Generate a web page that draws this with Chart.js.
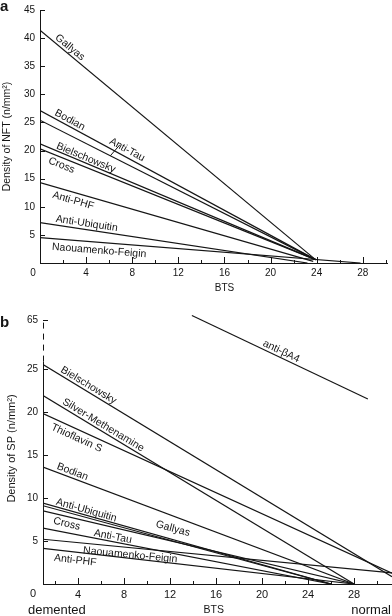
<!DOCTYPE html>
<html>
<head>
<meta charset="utf-8">
<script src="https://cdn.jsdelivr.net/npm/chart.js@4.4.0/dist/chart.umd.min.js"></script>
<style>
  html, body { margin: 0; padding: 0; background: #fff; }
  #wrap { position: relative; width: 392px; height: 616px; }
  canvas { position: absolute; left: 0; }
  #chartA { top: 0; }
  #chartB { top: 300px; }
</style>
</head>
<body>
<div id="wrap">
  <canvas id="chartA" width="392" height="300"></canvas>
  <canvas id="chartB" width="392" height="316"></canvas>
</div>
<script>
// panel a: density of NFT, each regression line from (start BTS, start value) to (end BTS, end value)
const nftNames = ["Gallyas", "Bodian", "Anti-Tau", "Bielschowsky", "Cross", "Anti-PHF", "Anti-Ubiquitin", "Naouamenko-Feigin"];
const nftStartBts = [0, 0, 0, 0, 0, 0, 0, 0];
const nftStart = [41.4, 27.1, 25.4, 21.2, 20.3, 14.3, 7.2, 4.5];
const nftEndBts = [23.9, 23.9, 23.9, 23.9, 23.9, 23.7, 23.2, 27.8];
const nftEnd = [0.6, 0.6, 0.6, 0.6, 0.6, 0.3, 0, 0];
const nftXTicks = [4, 8, 12, 16, 20, 24, 28];
const nftXMinor = [2, 6, 10, 14, 18, 22, 26, 30];
const nftYTicks = [5, 10, 15, 20, 25, 30, 35, 40, 45];

// panel b: density of SP (anti-βA4 sits in the broken top part of the axis)
const spNames = ["Bielschowsky", "Silver-Methenamine", "Thioflavin S", "Bodian", "Anti-Ubiquitin", "Gallyas", "Cross", "Anti-Tau", "Naouamenko-Feigin", "Anti-PHF", "anti-βA4"];
const spStartBts = [0.95, 0.95, 0.95, 0.95, 0.95, 0.95, 0.95, 0.95, 0.95, 0.95, 13.9];
const spStart = [25.5, 21.9, 19.8, 13.6, 9.4, 9.1, 8.5, 6.5, 5.2, 4.15, 31.2];
const spEndBts = [31.3, 28, 31.3, 28, 26, 26, 28, 26, 31.3, 28, 29.2];
const spEnd = [0.85, 0, 1.25, 0, 0, 0, 0, 0, 1.3, 0, 21.5];
const spXTicks = [4, 8, 12, 16, 20, 24, 28];
const spXMinor = [2, 6, 10, 14, 18, 22, 26, 30];
const spYTicks = [5, 10, 15, 20, 25];
const spBreakFrom = 25.85;
const spBreakTick = 30.7;
const spBreakLabel = "65";

const ink = "#151515";
const family = "'Liberation Sans', Arial, Helvetica, sans-serif";

function lineSets(names, x0, y0, x1, y1) {
  return names.map((n, i) => ({
    label: n,
    data: [{ x: x0[i], y: y0[i] }, { x: x1[i], y: y1[i] }],
    borderColor: ink,
    borderWidth: 1.2,
    pointRadius: 0,
    fill: false,
    tension: 0
  }));
}

function pointOn(chart, ds, at, gap) {
  const xs = chart.scales.x, ys = chart.scales.y;
  const d = chart.data.datasets[ds].data;
  const ax = xs.getPixelForValue(d[0].x), ay = ys.getPixelForValue(d[0].y);
  const bx = xs.getPixelForValue(d[1].x), by = ys.getPixelForValue(d[1].y);
  const t = (at - d[0].x) / (d[1].x - d[0].x);
  const ang = Math.atan2(by - ay, bx - ax);
  return {
    x: ax + t * (bx - ax) + gap * Math.sin(ang),
    y: ay + t * (by - ay) - gap * Math.cos(ang),
    ang: ang
  };
}

const decor = {
  id: "decor",
  afterDatasetsDraw(chart, args, o) {
    const ctx = chart.ctx, xs = chart.scales.x, ys = chart.scales.y, ca = chart.chartArea;
    ctx.save();
    ctx.strokeStyle = ink;
    ctx.fillStyle = ink;
    ctx.lineWidth = 1;
    const seg = (ax, ay, bx, by) => {
      ctx.beginPath(); ctx.moveTo(ax, ay); ctx.lineTo(bx, by); ctx.stroke();
    };

    // tick marks point inwards
    o.yTicks.forEach(v => {
      const py = Math.round(ys.getPixelForValue(v)) + 0.5;
      seg(ca.left, py, ca.left + 5, py);
    });
    o.xMajor.forEach(v => {
      const px = Math.round(xs.getPixelForValue(v)) + 0.5;
      seg(px, ca.bottom, px, ca.bottom - 6);
    });
    o.xMinor.forEach(v => {
      const px = Math.round(xs.getPixelForValue(v)) + 0.5;
      seg(px, ca.bottom, px, ca.bottom - 3);
    });

    // broken y axis: solid part, then dashed up to the top tick
    if (o.axisBreak) {
      const lx = Math.round(ca.left) + 0.5;
      const yb = ys.getPixelForValue(o.axisBreak[0]);
      const yt = ys.getPixelForValue(o.axisBreak[1]);
      seg(lx, ca.bottom, lx, yb);
      ctx.setLineDash([6, 5]);
      seg(lx, yb, lx, yt);
      ctx.setLineDash([]);
    }

    // names written along the lines
    ctx.font = "10.5px " + family;
    o.labels.forEach(l => {
      const p = pointOn(chart, l.ds, l.at, l.below ? -l.gap : l.gap);
      ctx.save();
      ctx.translate(p.x, p.y);
      ctx.rotate(p.ang);
      ctx.textAlign = "left";
      ctx.textBaseline = l.below ? "top" : "alphabetic";
      ctx.fillText(chart.data.datasets[l.name !== undefined ? l.name : l.ds].label, 0, 0);
      ctx.restore();
    });

    (o.leaders || []).forEach(l => {
      const a = pointOn(chart, l.fromDs, l.fromAt, l.fromGap);
      const b = pointOn(chart, l.toDs, l.toAt, 0);
      seg(a.x, a.y, b.x, b.y);
    });

    // free text: panel letter, origin, axis name, ends of the scale
    o.texts.forEach(t => {
      ctx.font = t.font + " " + family;
      ctx.textAlign = t.align || "center";
      ctx.textBaseline = t.base || "middle";
      const px = t.val !== undefined ? xs.getPixelForValue(t.val) : t.x;
      const py = t.dy !== undefined ? ca.bottom + t.dy : t.y;
      ctx.fillText(t.text, px, py);
    });
    ctx.restore();
  }
};

function makeChart(id, cfg) {
  return new Chart(document.getElementById(id), {
    type: "line",
    data: { datasets: cfg.datasets },
    options: {
      responsive: false,
      animation: false,
      events: [],
      layout: { padding: cfg.padding },
      plugins: {
        legend: { display: false },
        tooltip: { enabled: false },
        decor: cfg.decor
      },
      scales: {
        x: {
          type: "linear",
          min: cfg.xMin,
          max: cfg.xMax,
          afterFit: s => { s.height = cfg.xHeight; },
          afterBuildTicks: s => { s.ticks = cfg.xTicks.map(v => ({ value: v })); },
          grid: { display: false, drawTicks: false },
          border: { display: true, color: ink, width: 1 },
          ticks: {
            autoSkip: false, maxRotation: 0, padding: 5, color: ink,
            font: { family: family, size: cfg.xFont, lineHeight: 1 }
          }
        },
        y: {
          type: "linear",
          min: 0,
          max: cfg.yMax,
          afterFit: s => { s.width = cfg.yWidth; },
          afterBuildTicks: s => { s.ticks = cfg.yTicks.map(v => ({ value: v })); },
          grid: { display: false, drawTicks: false },
          border: { display: cfg.yBorder, color: ink, width: 1 },
          title: {
            display: true, text: cfg.yTitle, color: ink,
            font: { family: family, size: cfg.yTitleSize },
            padding: { top: cfg.yTitlePad, bottom: 0 }
          },
          ticks: {
            autoSkip: false, padding: 5, color: ink,
            font: { family: family, size: 10, lineHeight: 1 },
            callback: cfg.yLabel
          }
        }
      }
    },
    plugins: [decor]
  });
}

makeChart("chartA", {
  datasets: lineSets(nftNames, nftStartBts, nftStart, nftEndBts, nftEnd),
  padding: { left: 0, right: 5, top: 5, bottom: 0 },
  xMin: 0, xMax: 30.1, xHeight: 37, xTicks: nftXTicks, xFont: 10,
  yMax: 45, yWidth: 40, yTicks: nftYTicks, yBorder: true,
  yTitle: "Density of NFT (n/mm²)", yTitleSize: 10.5, yTitlePad: 1,
  yLabel: v => v,
  decor: {
    yTicks: nftYTicks, xMajor: nftXTicks, xMinor: nftXMinor,
    labels: [
      { ds: 0, at: 1.1, gap: 3 },
      { ds: 1, at: 1.1, gap: 3 },
      { ds: 1, name: 2, at: 5.8, gap: 4 },
      { ds: 3, at: 1.3, gap: 2 },
      { ds: 4, at: 1.0, gap: 2, below: true },
      { ds: 5, at: 1.3, gap: 3, below: true },
      { ds: 6, at: 1.3, gap: 3 },
      { ds: 7, at: 1.1, gap: 3, below: true }
    ],
    leaders: [{ fromDs: 1, fromAt: 6.6, fromGap: 8, toDs: 2, toAt: 6.1 }],
    texts: [
      { text: "a", x: 0, y: 11, font: "bold 15px", align: "left", base: "alphabetic" },
      { text: "0", x: 33, dy: 10, font: "10px" },
      { text: "BTS", val: 16, dy: 25, font: "10px" }
    ]
  }
});

makeChart("chartB", {
  datasets: lineSets(spNames, spStartBts, spStart, spEndBts, spEnd),
  padding: { left: 0, right: 0, top: 13, bottom: 0 },
  xMin: 0.95, xMax: 31.3, xHeight: 32, xTicks: spXTicks, xFont: 11,
  yMax: 31.5, yWidth: 43, yTicks: spYTicks.concat([spBreakTick]), yBorder: false,
  yTitle: "Density of SP (n/mm²)", yTitleSize: 11, yTitlePad: 5,
  yLabel: v => (v === spBreakTick ? spBreakLabel : v),
  decor: {
    yTicks: spYTicks.concat([spBreakTick]), xMajor: spXTicks, xMinor: spXMinor,
    axisBreak: [spBreakFrom, spBreakTick],
    labels: [
      { ds: 0, at: 2.3, gap: 3 },
      { ds: 1, at: 2.45, gap: 3 },
      { ds: 2, at: 2.0, gap: 3, below: true },
      { ds: 3, at: 2.0, gap: 3 },
      { ds: 4, at: 2.0, gap: 2 },
      { ds: 5, at: 10.5, gap: 9 },
      { ds: 6, at: 2.0, gap: 2, below: true },
      { ds: 7, at: 5.3, gap: 2 },
      { ds: 8, at: 4.5, gap: 2, below: true },
      { ds: 9, at: 2.0, gap: 3, below: true },
      { ds: 10, at: 19.9, gap: 3 }
    ],
    texts: [
      { text: "b", x: 0, y: 27, font: "bold 15px", align: "left", base: "alphabetic" },
      { text: "0", x: 33, dy: 10, font: "11px" },
      { text: "BTS", val: 15.8, dy: 26, font: "10.5px" },
      { text: "demented", x: 28, dy: 26, font: "13px", align: "left" },
      { text: "normal", x: 391, dy: 26, font: "13px", align: "right" }
    ]
  }
});
</script>
</body>
</html>
